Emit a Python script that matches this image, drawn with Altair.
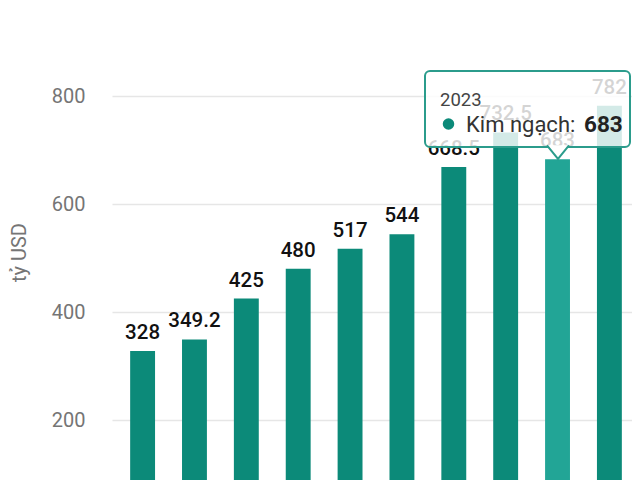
import altair as alt
import pandas as pd

years = ["2015", "2016", "2017", "2018", "2019", "2020", "2021", "2022", "2023", "2024"]
values = [328, 349.2, 425, 480, 517, 544, 668.5, 732.5, 683, 782]
labels = ["328", "349.2", "425", "480", "517", "544", "668.5", "732.5", "683", "782"]
hover_year = "2023"
hover_value = "683"
series_name = "Kim ngạch:"

df = pd.DataFrame({"year": years, "value": values, "label": labels})

FONT = "Roboto"
TEAL = "#0c8a79"
TEAL_HOVER = "#22a596"

# the reference is a cropped view of a wider/taller chart: the scales' ranges
# run past the visible window on the right and at the bottom
x = alt.X("year:N", sort=years, axis=None,
          scale=alt.Scale(paddingInner=0.52, paddingOuter=0.35, range=[0, 528]))
y = alt.Y("value:Q", scale=alt.Scale(domain=[0, 800], nice=False, range=[432, 0]),
          axis=alt.Axis(values=[0, 200, 400, 600, 800], title="tỷ USD",
                        titleX=-87, titleY=156, titleAngle=270,
                        titleAlign="center", titleBaseline="alphabetic",
                        titleFontSize=20, titleFontWeight="normal",
                        titleColor="#757575", titleFont=FONT,
                        labelFont=FONT, labelFontSize=20, labelColor="#757575",
                        labelPadding=27, ticks=False, domain=False,
                        gridColor="#e6e6e6", gridWidth=1.5))

base = alt.Chart(df)

bars = base.mark_bar().encode(
    x=x, y=y,
    color=alt.condition(alt.datum.year == hover_year, alt.value(TEAL_HOVER), alt.value(TEAL)),
)

text = base.mark_text(font=FONT, fontSize=20.5, fontWeight=500, color="#111111",
                      baseline="alphabetic", dy=-12).encode(
    x=x, y=alt.Y("value:Q"), text="label:N")

tip = pd.DataFrame({"year": [hover_year], "value": [hover_value], "name": [series_name]})
tbase = alt.Chart(tip)

box = tbase.mark_rect(fill="white", fillOpacity=0.82, stroke="#2b9c8c",
                      strokeWidth=2, cornerRadius=5).encode(
    x=alt.value(313), x2=alt.value(518), y=alt.value(-25), y2=alt.value(51))

pointer = tbase.mark_point(shape="M -1 -0.15 L 0 1.09 L 1 -0.15", size=484,
                           filled=True, fill="white", fillOpacity=1,
                           stroke="#2b9c8c", strokeWidth=2, opacity=1).encode(
    x=alt.value(446), y=alt.value(51))

t_year = tbase.mark_text(font=FONT, fontSize=18.5, color="#444444", align="left",
                         baseline="alphabetic").encode(
    x=alt.value(328), y=alt.value(9.7), text="year:N")

dot = tbase.mark_circle(size=133, color=TEAL, opacity=1).encode(
    x=alt.value(336.5), y=alt.value(28))

t_name = tbase.mark_text(font=FONT, fontSize=22, color="#333333", align="left",
                         baseline="alphabetic").encode(
    x=alt.value(354), y=alt.value(35.7), text="name:N")

t_val = tbase.mark_text(font=FONT, fontSize=22.5, fontWeight="bold", color="#222222",
                        align="left", baseline="alphabetic").encode(
    x=alt.value(472), y=alt.value(35.7), text="value:N")

chart = alt.layer(bars, text, box, pointer, t_year, dot, t_name, t_val).properties(
    width=520, height=384,
    autosize=alt.AutoSizeParams(type="none"),
    padding={"left": 104, "top": 88, "right": 0, "bottom": 0},
).configure_view(stroke=None)

chart.save("out.html", embed_options={"renderer": "svg", "actions": False})
